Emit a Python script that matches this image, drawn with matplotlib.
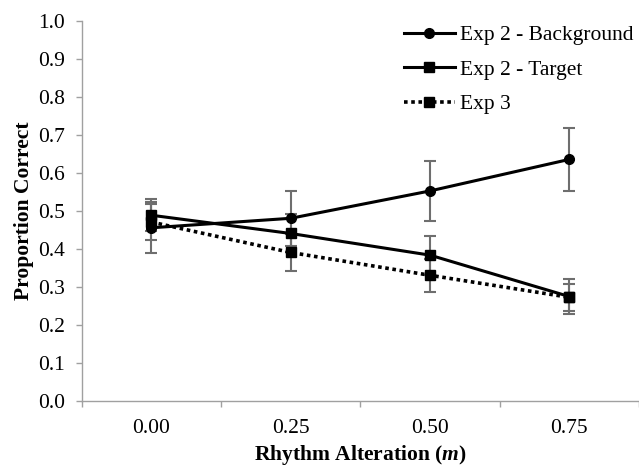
import matplotlib
matplotlib.use("Agg")
import matplotlib.pyplot as plt
from matplotlib.ticker import FixedLocator, NullFormatter

plt.rcParams["font.family"] = ["Liberation Serif", "DejaVu Serif"]
plt.rcParams["mathtext.fontset"] = "custom"
plt.rcParams["mathtext.bfit"] = "Liberation Serif:italic:bold"
plt.rcParams["mathtext.it"] = "Liberation Serif:italic"

categories = ["0.00", "0.25", "0.50", "0.75"]

bg_mean = [0.455, 0.480, 0.552, 0.635]
bg_err = [0.067, 0.072, 0.078, 0.082]

tgt_mean = [0.488, 0.440, 0.383, 0.274]
tgt_err = [0.042, 0.050, 0.051, 0.045]

exp3_mean = [0.470, 0.390, 0.330, 0.272]
exp3_err = [0.048, 0.048, 0.043, 0.036]

x = list(range(len(categories)))

fig = plt.figure(figsize=(6.39, 4.67), dpi=100)
ax = fig.add_axes([0.128, 0.142, 0.872, 0.8137])

err_kw = dict(fmt="none", ecolor="#6e6e6e", elinewidth=1.5, capsize=4.5, capthick=1.5, zorder=2)
ax.errorbar(x, bg_mean, yerr=bg_err, **err_kw)
ax.errorbar(x, tgt_mean, yerr=tgt_err, **err_kw)
ax.errorbar(x, exp3_mean, yerr=exp3_err, **err_kw)

ax.plot(x, bg_mean, color="black", lw=2.2, marker="o", markersize=7, label="Exp 2 - Background", zorder=3)
ax.plot(x, tgt_mean, color="black", lw=2.2, marker="s", markersize=7.5, label="Exp 2 - Target", zorder=3)
ax.plot(x, exp3_mean, color="black", lw=2.6, linestyle=(0, (1, 1)), marker="s", markersize=7.5,
        label="Exp 3", zorder=3)

ax.set_xlim(-0.5, 3.5)
ax.set_ylim(0, 1.0)
ax.set_yticks([i / 10 for i in range(11)])
ax.set_yticklabels([f"{i / 10:.1f}" for i in range(11)])
ax.set_xticks(x)
ax.set_xticklabels(categories)
ax.xaxis.set_minor_locator(FixedLocator([-0.5, 0.5, 1.5, 2.5, 3.5]))
ax.xaxis.set_minor_formatter(NullFormatter())
ax.tick_params(axis="x", which="major", length=0, labelsize=15.5, pad=13)
ax.tick_params(axis="x", which="minor", length=4, color="#a0a0a0", width=1)
ax.tick_params(axis="y", length=4, color="#a0a0a0", width=1, labelsize=15.5, pad=8)

for side in ["top", "right"]:
    ax.spines[side].set_visible(False)
for side in ["left", "bottom"]:
    ax.spines[side].set_color("#a0a0a0")
    ax.spines[side].set_linewidth(1)

ax.set_xlabel("Rhythm Alteration ($\\mathbfit{m}$)", fontsize=15.5, fontweight="bold", labelpad=4)
ax.set_ylabel("Proportion Correct", fontsize=15.5, fontweight="bold", labelpad=3)

ax.legend(loc="upper right", bbox_to_anchor=(0.997, 1.0), frameon=False, fontsize=15.5,
          handlelength=2.4, handletextpad=0.2, labelspacing=0.68, borderaxespad=0, borderpad=0.2)

fig.savefig("out.png", dpi=100)
